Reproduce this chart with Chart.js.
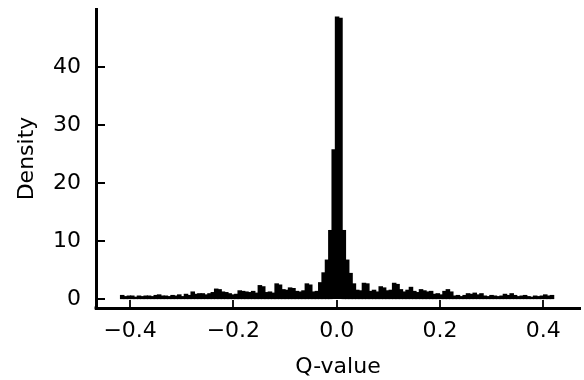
<!DOCTYPE html>
<html>
<head>
<meta charset="utf-8">
<script src="https://cdn.jsdelivr.net/npm/chart.js@4/dist/chart.umd.min.js"></script>
<style>
html,body{margin:0;padding:0;background:#fff;}
#wrap{width:584px;height:380px;position:relative;}
</style>
</head>
<body>
<div id="wrap"><canvas id="c"></canvas></div>
<script>
// Histogram bins (Q-value), density per bin
const binStart = -0.4185;
const binWidth = 0.0065;
const density = [
  0.6,0.4,0.5,0.5,0.3,0.5,0.4,0.5,0.5,0.4,
  0.6,0.7,0.5,0.5,0.4,0.6,0.5,0.7,0.4,0.8,
  0.6,1.2,0.8,0.9,0.9,0.7,0.9,1.1,1.7,1.6,
  1.2,1.1,0.9,0.7,0.8,1.4,1.3,1.2,1.1,1.3,
  1.0,2.3,2.1,1.1,1.2,1.0,2.6,2.4,1.6,1.5,
  1.9,1.8,1.3,1.2,1.4,2.6,2.4,1.2,1.3,2.8,
  4.5,6.7,11.8,25.7,48.6,48.4,11.8,6.7,4.4,2.6,
  1.5,1.4,2.7,2.6,1.3,1.5,1.2,2.1,1.9,1.4,
  1.5,2.7,2.5,1.6,1.2,1.5,2.0,1.3,1.1,1.6,
  1.4,1.2,1.3,0.8,0.9,0.7,1.3,1.6,1.2,0.5,
  0.6,0.4,0.6,0.9,0.8,1.0,0.7,0.9,0.5,0.4,
  0.6,0.5,0.4,0.5,0.8,0.6,0.9,0.6,0.4,0.5,
  0.6,0.4,0.3,0.5,0.4,0.5,0.7,0.5,0.6
];
const xTicks = [-0.4, -0.2, 0.0, 0.2, 0.4];
const yTicks = [0, 10, 20, 30, 40];
const xLabel = 'Q-value';
const yLabel = 'Density';

const binCenters = density.map((_, i) => binStart + binWidth * (i + 0.5));
const points = density.map((v, i) => ({x: binCenters[i], y: v}));

const FONT = 'DejaVu Sans';
const FS = 22;

const inwardTicks = {
  id: 'inwardTicks',
  afterDraw(chart) {
    const {ctx, chartArea, scales} = chart;
    ctx.save();
    ctx.strokeStyle = '#000';
    ctx.lineWidth = 1.8;
    ctx.beginPath();
    yTicks.forEach(v => {
      const y = Math.round(scales.y.getPixelForValue(v));
      ctx.moveTo(chartArea.left, y);
      ctx.lineTo(chartArea.left + 9, y);
    });
    xTicks.forEach(v => {
      const x = Math.round(scales.x.getPixelForValue(v));
      ctx.moveTo(x, chartArea.bottom);
      ctx.lineTo(x, chartArea.bottom - 8);
    });
    ctx.stroke();
    ctx.fillStyle = '#000';
    ctx.fillRect(chartArea.left - 1.5, chartArea.bottom - 1.5, 3, 3);
    ctx.restore();
  }
};

new Chart(document.getElementById('c'), {
  type: 'bar',
  data: {
    datasets: [{
      data: points,
      backgroundColor: '#000',
      borderWidth: 0,
      inflateAmount: 0.6,
      barPercentage: 1.0,
      categoryPercentage: 1.0
    }]
  },
  options: {
    responsive: true,
    maintainAspectRatio: false,
    animation: false,
    events: [],
    layout: {padding: {top: 9, right: 4, bottom: 0, left: 0}},
    plugins: {legend: {display: false}, tooltip: {enabled: false}},
    scales: {
      x: {
        type: 'linear',
        min: -0.466,
        max: 0.471,
        offset: false,
        afterFit(s) { s.height = 72; s.paddingLeft = 0; s.paddingRight = 0; },
        afterBuildTicks(s) { s.ticks = xTicks.map(v => ({value: v})); },
        grid: {display: true, drawOnChartArea: false, drawTicks: false},
        border: {display: true, color: '#000', width: 3},
        ticks: {
          color: '#000',
          font: {family: FONT, size: FS},
          padding: 10,
          maxRotation: 0,
          autoSkip: false,
          callback: v => (v < -1e-9 ? '\u2212' : '') + Math.abs(v).toFixed(1)
        },
        title: {display: true, text: xLabel, color: '#000', font: {family: FONT, size: FS}, padding: {top: 0, bottom: 0}}
      },
      y: {
        type: 'linear',
        min: -1.55,
        max: 50,
        afterFit(s) { s.width = 96; s.paddingTop = 0; s.paddingBottom = 0; },
        afterBuildTicks(s) { s.ticks = yTicks.map(v => ({value: v})); },
        grid: {display: true, drawOnChartArea: false, drawTicks: false},
        border: {display: true, color: '#000', width: 3},
        ticks: {
          color: '#000',
          font: {family: FONT, size: FS},
          padding: 15,
          autoSkip: false,
          callback: v => String(v)
        },
        title: {display: true, text: yLabel, color: '#000', font: {family: FONT, size: FS}, padding: {top: 14, bottom: 0}}
      }
    }
  },
  plugins: [inwardTicks]
});
</script>
</body>
</html>
